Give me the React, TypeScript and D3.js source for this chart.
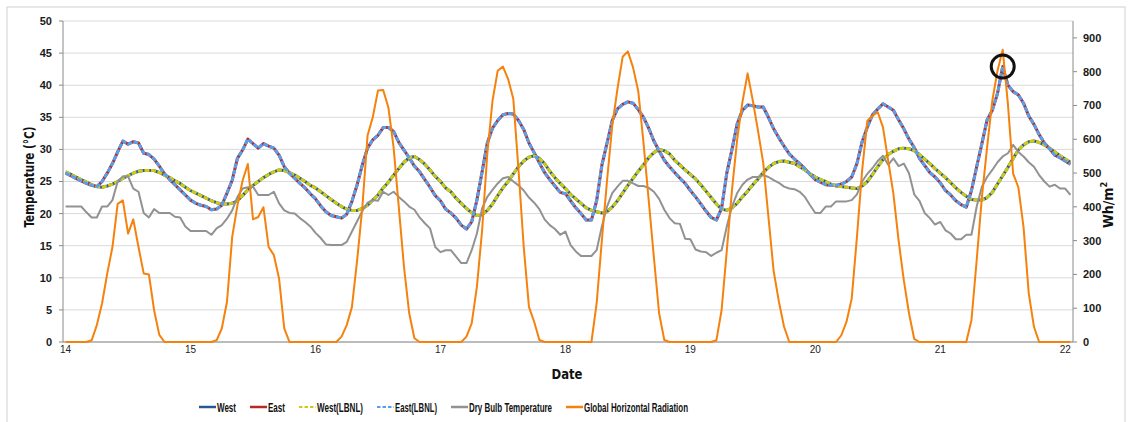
import React, { useLayoutEffect, useRef, useState } from 'react';
import * as d3 from 'd3';

// hourly readings, one row per day (24 points), last row = first two hours of the 22nd
const dayLabels = ['14', '15', '16', '17', '18', '19', '20', '21', '22'];
const hoursPerDay = 24;

const west = [
  26.5, 26.1, 25.7, 25.3, 24.9, 24.5, 24.2, 24.1, 24.3, 24.6, 25.0, 25.5, 25.9, 26.3, 26.6, 26.7, 26.7, 26.7, 26.4, 26.0, 25.6, 25.1, 24.7, 24.1,
  23.6, 23.2, 22.8, 22.4, 22.0, 21.7, 21.5, 21.5, 21.6, 22.0, 22.8, 23.7, 24.4, 25.0, 25.6, 26.1, 26.5, 26.8, 26.7, 26.4, 26.0, 25.5, 25.0, 24.4,
  24.0, 23.4, 22.8, 22.2, 21.6, 21.1, 20.7, 20.5, 20.5, 20.8, 21.3, 22.1, 22.9, 24.0, 24.9, 26.0, 27.0, 28.0, 28.7, 28.9, 28.4, 27.7, 26.8, 25.8,
  25.0, 24.0, 23.4, 22.4, 21.6, 20.8, 20.1, 19.7, 19.8, 20.5, 21.5, 22.8, 24.0, 25.0, 26.2, 27.3, 28.2, 28.8, 29.0, 28.6, 27.8, 26.6, 25.6, 24.7,
  23.9, 23.0, 22.3, 21.6, 20.9, 20.5, 20.3, 20.1, 20.3, 21.0, 22.0, 23.2, 24.4, 25.5, 26.6, 27.6, 28.7, 29.5, 30.0, 29.8, 29.3, 28.3, 27.6, 26.8,
  26.1, 25.4, 24.5, 23.5, 22.5, 21.5, 20.7, 20.5, 20.9, 21.6, 22.6, 23.5, 24.5, 25.4, 26.4, 27.2, 27.8, 28.1, 28.2, 28.0, 27.8, 27.3, 26.8, 26.2,
  25.7, 25.3, 25.0, 24.6, 24.3, 24.2, 24.1, 24.0, 23.9, 24.3, 25.0, 26.1, 27.3, 28.4, 29.2, 29.7, 30.1, 30.2, 30.1, 29.8, 29.2, 28.5, 27.8, 27.0,
  26.3, 25.6, 24.8, 24.0, 23.3, 22.7, 22.2, 22.1, 22.1, 22.5, 23.3, 24.6, 25.9, 27.2, 28.6, 29.9, 30.7, 31.2, 31.3, 31.1, 30.7, 30.2, 29.6, 29.0,
  28.5, 28.0,
];

const east = [
  26.3, 25.9, 25.5, 25.1, 24.7, 24.4, 24.2, 25.0, 26.3, 27.8, 29.6, 31.3, 30.8, 31.2, 31.0, 29.4, 29.2, 28.5, 27.4, 26.2, 25.3, 24.5, 23.7, 22.9,
  22.1, 21.6, 21.3, 21.1, 20.6, 20.7, 21.3, 23.2, 25.2, 28.6, 29.9, 31.6, 30.9, 30.2, 30.9, 30.5, 30.2, 29.1, 27.3, 26.3, 25.5, 24.7, 24.0, 23.1,
  22.3, 21.2, 20.3, 19.7, 19.5, 19.3, 19.9, 21.9, 24.5, 27.6, 30.2, 31.5, 32.2, 33.4, 33.4, 32.8, 31.1, 29.9, 28.7, 27.4, 26.5, 25.3, 24.1, 22.8,
  22.0, 20.7, 20.1, 19.3, 18.2, 17.6, 18.7, 22.1, 26.5, 31.0, 33.3, 34.5, 35.4, 35.6, 35.5, 34.5, 33.1, 31.0, 29.5, 27.9, 26.4, 25.3, 24.3, 23.3,
  23.1, 22.0, 20.9, 20.0, 19.0, 19.0, 22.0, 27.5, 31.0, 34.5, 36.3, 37.0, 37.4, 37.2, 36.2, 35.0, 33.3, 31.3, 29.8, 28.3, 27.3, 26.4, 25.5, 24.7,
  23.6, 22.6, 21.5, 20.4, 19.4, 19.0, 20.8, 26.3, 30.0, 34.0, 36.1, 36.9, 36.8, 36.6, 36.6, 35.0, 33.2, 31.8, 30.5, 29.3, 28.5, 27.8, 27.0, 26.1,
  25.3, 24.9, 24.5, 24.4, 24.4, 24.6, 25.0, 25.7, 27.8, 31.2, 33.5, 35.4, 36.3, 37.1, 36.6, 36.1, 34.6, 33.2, 31.6, 30.3, 28.6, 27.5, 26.4, 25.7,
  24.8, 23.6, 22.9, 22.0, 21.4, 21.0, 23.6, 27.3, 30.9, 34.6, 36.1, 38.7, 42.9, 40.0, 39.0, 38.5, 37.2, 35.2, 33.9, 32.3, 31.0, 30.1, 29.1, 28.7,
  28.2, 27.7,
];

// the LBNL simulation traces sit on top of the measured ones in the picture
const westLbnl = west.slice();
const eastLbnl = east.slice();

const dryBulb = [
  21.1, 21.1, 21.1, 21.1, 20.2, 19.4, 19.4, 21.1, 21.1, 22.1, 25.0, 25.8, 25.8, 23.9, 23.4, 20.1, 19.4, 20.7, 20.1, 20.1, 20.1, 19.5, 19.4, 18.0,
  17.3, 17.3, 17.3, 17.3, 16.7, 17.7, 18.2, 19.2, 20.5, 22.6, 23.9, 24.1, 24.2, 22.9, 22.9, 22.9, 23.4, 21.6, 20.5, 20.1, 20.0, 19.3, 18.7, 18.0,
  17.0, 16.2, 15.2, 15.1, 15.1, 15.1, 15.6, 17.2, 18.8, 20.4, 21.7, 22.1, 22.0, 23.4, 22.9, 23.4, 22.6, 21.9, 21.1, 20.6, 19.4, 18.5, 17.7, 14.8,
  14.0, 14.3, 14.3, 13.3, 12.3, 12.3, 14.3, 16.9, 20.8, 22.6, 23.7, 24.7, 25.5, 25.7, 25.0, 24.4, 23.6, 22.5, 21.7, 20.7, 19.1, 18.2, 17.6, 16.7,
  17.2, 15.1, 14.1, 13.4, 13.4, 13.4, 14.3, 18.0, 21.1, 23.2, 24.2, 25.1, 25.1, 24.7, 24.3, 24.3, 24.0, 23.4, 22.3, 20.6, 19.3, 18.5, 18.4, 16.1,
  16.0, 14.4, 14.1, 14.0, 13.4, 13.9, 14.3, 18.0, 21.1, 23.2, 24.5, 25.3, 25.7, 25.7, 26.0, 25.7, 25.2, 24.8, 24.2, 23.9, 23.8, 23.4, 22.6, 21.3,
  20.1, 20.1, 21.1, 21.1, 21.9, 21.9, 21.9, 22.1, 23.0, 25.0, 26.2, 27.1, 28.2, 29.0, 27.6, 28.6, 27.4, 27.8, 26.3, 23.0, 22.0, 20.1, 19.3, 18.3,
  18.7, 17.4, 16.9, 16.0, 16.0, 16.7, 16.7, 21.1, 24.2, 25.7, 26.8, 28.0, 28.9, 29.4, 30.7, 29.6, 28.9, 28.0, 27.3, 26.0, 25.0, 24.2, 24.5, 23.9,
  23.9, 22.9,
];

const radiation = [
  0, 0, 0, 0, 0, 5, 50, 114, 203, 281, 409, 419, 321, 363, 281, 203, 200, 94, 21, 0, 0, 0, 0, 0,
  0, 0, 0, 0, 0, 5, 40, 119, 311, 404, 478, 527, 363, 370, 399, 281, 257, 188, 40, 0, 0, 0, 0, 0,
  0, 0, 0, 0, 0, 16, 50, 104, 242, 399, 611, 665, 744, 746, 694, 576, 399, 222, 85, 11, 0, 0, 0, 0,
  0, 0, 0, 0, 0, 16, 55, 163, 330, 557, 714, 803, 815, 778, 719, 508, 281, 104, 60, 6, 0, 0, 0, 0,
  0, 0, 0, 0, 0, 0, 114, 300, 478, 640, 749, 844, 860, 812, 742, 590, 420, 250, 85, 6, 0, 0, 0, 0,
  0, 0, 0, 0, 0, 5, 94, 270, 450, 600, 710, 795, 714, 625, 530, 370, 210, 120, 45, 0, 0, 0, 0, 0,
  0, 0, 0, 0, 0, 20, 60, 129, 311, 508, 655, 670, 680, 635, 537, 439, 301, 183, 85, 9, 0, 0, 0, 0,
  0, 0, 0, 0, 0, 0, 65, 242, 429, 576, 714, 803, 865, 704, 498, 458, 340, 144, 45, 0, 0, 0, 0, 0,
  0, 0,
];

const tempTicks = d3.range(0, 51, 5);
const radTicks = d3.range(0, 901, 100);

const series = [
  { name: 'West', values: west, axis: 'T', color: '#285a92', width: 3, dash: null },
  { name: 'East', values: east, axis: 'T', color: '#b52a22', width: 3, dash: null },
  { name: 'West(LBNL)', values: westLbnl, axis: 'T', color: '#cfcb12', width: 3, dash: '5 1.6' },
  { name: 'East(LBNL)', values: eastLbnl, axis: 'T', color: '#58a0ee', width: 3, dash: '5 1.6' },
  { name: 'Dry Bulb Temperature', values: dryBulb, axis: 'T', color: '#929292', width: 2, dash: null },
  { name: 'Global Horizontal Radiation', values: radiation, axis: 'R', color: '#f5820c', width: 2, dash: null },
];

// legend layout: text widths match the condensed Excel font
const legendWidths = [19, 17, 46, 42, 83, 104];

const W = 1128;
const H = 422;
const plot = { left: 63, right: 1073, top: 21, bottom: 342 };
const axisFont = "'Liberation Sans', Arial, sans-serif";
const narrowFont = "'Liberation Sans Narrow', 'DejaVu Sans Condensed', 'Arial Narrow', sans-serif";

export default function App() {
  const legendRefs = useRef<(SVGTextElement | null)[]>([]);
  const [legendScale, setLegendScale] = useState(legendWidths.map(() => 0.7));

  // squeeze each legend label horizontally to the width it has in the picture
  useLayoutEffect(() => {
    setLegendScale(
      legendRefs.current.map((el, i) => {
        const len = el ? el.getComputedTextLength() : 0;
        return len > 0 ? legendWidths[i] / len : 0.7;
      })
    );
  }, []);

  const n = west.length;
  const x = d3.scaleLinear().domain([-0.5, n - 0.5]).range([plot.left, plot.right]);
  const yT = d3.scaleLinear().domain([0, 50]).range([plot.bottom, plot.top]);
  const yR = d3.scaleLinear().domain([0, 950]).range([plot.bottom, plot.top]);

  const lineFor = (axis) =>
    d3.line<number>()
      .x((d, i) => x(i))
      .y((d) => (axis === 'R' ? yR(d) : yT(d)));

  // annotate the highest east reading
  const peakIdx = d3.maxIndex(east);

  let lx = 199;
  const legendItems = series.map((s, i) => {
    const item = { ...s, x: lx, w: legendWidths[i] };
    lx += 18 + legendWidths[i] + 14;
    return item;
  });
  const ly = 407;

  return (
    <svg width={W} height={H} style={{ position: 'absolute', left: 0, top: 0, background: '#fff' }}>
      <rect x={7} y={7} width={1118} height={430} fill="#fff" stroke="#d0d0d0" strokeWidth={1} />

      {tempTicks.map((t) => (
        <line key={'g' + t} x1={plot.left} x2={plot.right} y1={yT(t)} y2={yT(t)} stroke="#dadada" strokeWidth={1} />
      ))}

      <line x1={plot.left} x2={plot.left} y1={plot.top} y2={plot.bottom} stroke="#8a8a8a" />
      <line x1={plot.right} x2={plot.right} y1={plot.top} y2={plot.bottom} stroke="#8a8a8a" />
      <line x1={plot.left} x2={plot.right} y1={plot.bottom} y2={plot.bottom} stroke="#8a8a8a" />

      {tempTicks.map((t) => (
        <g key={'lt' + t}>
          <line x1={plot.left - 4} x2={plot.left} y1={yT(t)} y2={yT(t)} stroke="#8a8a8a" />
          <text x={52} y={yT(t)} dy="0.36em" textAnchor="end" fontFamily={axisFont} fontWeight="bold" fontSize={11} fill="#1a1a1a">
            {t}
          </text>
        </g>
      ))}

      {radTicks.map((t) => (
        <g key={'rt' + t}>
          <line x1={plot.right} x2={plot.right + 4} y1={yR(t)} y2={yR(t)} stroke="#8a8a8a" />
          <text x={1083} y={yR(t)} dy="0.36em" fontFamily={axisFont} fontWeight="bold" fontSize={11} fill="#1a1a1a">
            {t}
          </text>
        </g>
      ))}

      {dayLabels.map((d, i) => (
        <text key={'d' + d} x={x(i * hoursPerDay)} y={353} textAnchor="middle" fontFamily={axisFont} fontSize={10} fill="#222">
          {d}
        </text>
      ))}

      {series.map((s) => (
        <path
          key={s.name}
          d={lineFor(s.axis)(s.values) || ''}
          fill="none"
          stroke={s.color}
          strokeWidth={s.width}
          strokeDasharray={s.dash || undefined}
          strokeLinejoin="round"
        />
      ))}

      <circle cx={x(peakIdx)} cy={yT(east[peakIdx])} r={11.5} fill="none" stroke="#111" strokeWidth={3} />

      <text
        transform="translate(34,177) rotate(-90)"
        textAnchor="middle"
        fontFamily={narrowFont}
        fontWeight="bold"
        fontSize={14}
        textLength={101}
        lengthAdjust="spacingAndGlyphs"
        fill="#111"
      >
        Temperature (°C)
      </text>

      <text transform="translate(1113,205) rotate(-90)" textAnchor="middle" fontFamily={narrowFont} fontWeight="bold" fontSize={14} fill="#111">
        Wh/m<tspan fontSize={9} dy={-6}>2</tspan>
      </text>

      <text x={567} y={379} textAnchor="middle" fontFamily={narrowFont} fontWeight="bold" fontSize={14} textLength={31} lengthAdjust="spacingAndGlyphs" fill="#111">
        Date
      </text>

      {legendItems.map((it, i) => (
        <g key={'lg' + it.name}>
          <line
            x1={it.x}
            x2={it.x + 17}
            y1={ly}
            y2={ly}
            stroke={it.color}
            strokeWidth={it.name.includes('LBNL') ? 2 : 2.5}
            strokeDasharray={it.dash ? '3.5 2' : undefined}
          />
          <text
            ref={(el) => {
              legendRefs.current[i] = el;
            }}
            transform={`translate(${it.x + 18},${ly}) scale(${legendScale[i]},1)`}
            dy="0.36em"
            fontFamily={axisFont}
            fontWeight="bold"
            fontSize={13.5}
            fill="#111"
          >
            {it.name}
          </text>
        </g>
      ))}
    </svg>
  );
}
